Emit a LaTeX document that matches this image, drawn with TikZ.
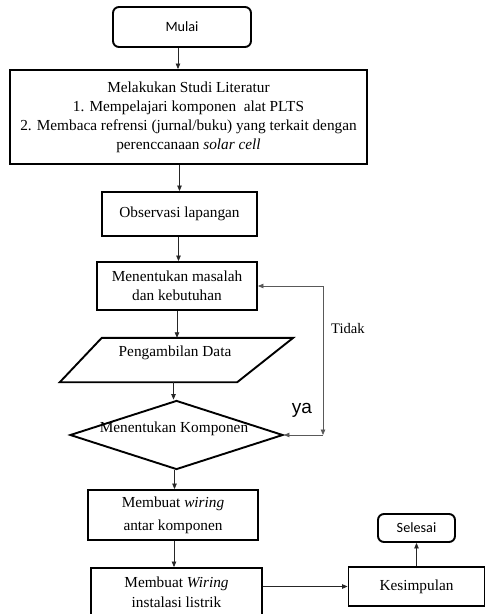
\documentclass[tikz,border=0pt]{standalone}
\usepackage{fontspec}
\setmainfont{Liberation Serif}
\newfontfamily\calfont{Carlito}
\newfontfamily\arifont{Liberation Sans}
\usetikzlibrary{shapes.geometric,arrows.meta}
\tikzset{
  >={Triangle[length=5.5pt,width=4.5pt]},
  boxline/.style={draw=black, line width=1.9pt},
  procbox/.style={boxline, rectangle, inner sep=0pt, align=center, font=\fontsize{15.3}{19}\selectfont},
  termbox/.style={boxline, rectangle, rounded corners=6pt, inner sep=0pt, font=\calfont\fontsize{14.2}{17}\selectfont},
  conn/.style={draw=black!85, line width=0.8pt, ->},
  fb/.style={draw=black!65, line width=0.8pt},
  txt/.style={inner sep=0pt, font=\fontsize{15.3}{19}\selectfont},
}
\begin{document}
\begin{tikzpicture}[x=1pt,y=-1pt]
\useasboundingbox (0,0) rectangle (485,614);
\fill[white] (0,0) rectangle (485,614);

\node[termbox, minimum width=138, minimum height=40] (mulai) at (182,27) {Mulai};
\node[procbox, minimum width=357, minimum height=94] (study) at (188.5,117) {Melakukan Studi Literatur\\1. Mempelajari komponen\ \ alat PLTS\\2. Membaca refrensi (jurnal/buku) yang terkait dengan\\perenccanaan \textit{solar cell}};
\node[procbox, minimum width=155, minimum height=44] (obs) at (179.5,214) {Observasi lapangan};
\node[procbox, minimum width=160, minimum height=48] (mas) at (177,286) {Menentukan masalah\\dan kebutuhan};

\node[inner sep=0pt, minimum width=233, minimum height=44] (data) at (176.5,360) {};
\draw[boxline, line join=miter] ([xshift=42]data.north west) -- (data.north east) -- ([xshift=-56]data.south east) -- (data.south west) -- cycle;
\node[txt] (datat) at (175,353) {Pengambilan Data};

\node[boxline, diamond, inner sep=0pt, minimum width=213, minimum height=69] (dec) at (176.5,435) {};
\node[txt] (dect) at (174,429) {Menentukan Komponen};

\node[procbox, minimum width=170, minimum height=50, font=\fontsize{15.3}{23}\selectfont] (w1) at (173,515) {Membuat \textit{wiring}\\antar komponen};
\node[procbox, minimum width=171, minimum height=48, font=\fontsize{15.3}{20}\selectfont] (w2) at (176.5,592) {Membuat \textit{Wiring}\\instalasi listrik};
\node[procbox, minimum width=136, minimum height=39] (kes) at (416.5,586.5) {Kesimpulan};
\node[termbox, minimum width=77, minimum height=28] (sel) at (416.5,528) {Selesai};

\draw[conn] ([xshift=-4]mulai.south) -- ([xshift=-4]mulai.south |- study.north);
\draw[conn] (obs.north |- study.south) -- (obs.north);
\draw[conn] ([xshift=-1]obs.south) -- ([xshift=-1]obs.south |- mas.north);
\draw[conn] (mas.south) -- (mas.south |- data.north);
\draw[conn] ([xshift=-3]data.south) -- ([xshift=-3]data.south |- dec.north);
\draw[conn] ([xshift=-2]dec.south) -- ([xshift=-2]dec.south |- w1.north);
\draw[conn] ([xshift=1]w1.south) -- ([xshift=1]w1.south |- w2.north);
\draw[conn] (w2.east |- kes.west) -- (kes.west);
\draw[conn] (kes.north) -- (sel.south);

\coordinate (k) at (323,435);
\draw[fb, <->] (mas.east) -| (k);
\draw[fb, ->] (k) -- (dec.east);

\node[inner sep=0pt, font=\fontsize{14.6}{17}\selectfont] (tidak) at (348,329) {Tidak};
\node[inner sep=0pt, font=\arifont\fontsize{19}{22}\selectfont] (ya) at (302,410) {ya};
\end{tikzpicture}
\end{document}
